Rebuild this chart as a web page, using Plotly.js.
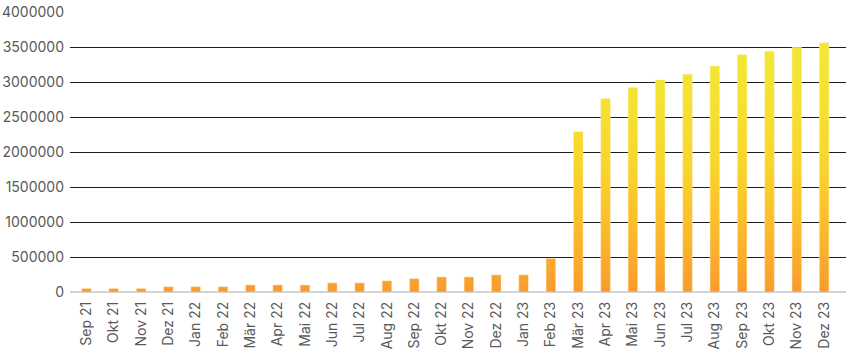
<!DOCTYPE html>
<html>
<head>
<meta charset="utf-8">
<script src="https://cdn.plot.ly/plotly-3.0.1.min.js"></script>
<style>
html,body{margin:0;padding:0;background:#fff;}
#chart{width:852px;height:352px;}
</style>
</head>
<body>
<div id="chart"></div>
<script>
const categories = ["Sep 21","Okt 21","Nov 21","Dez 21","Jan 22","Feb 22","Mär 22","Apr 22","Mai 22","Jun 22","Jul 22","Aug 22","Sep 22","Okt 22","Nov 22","Dez 22","Jan 23","Feb 23","Mär 23","Apr 23","Mai 23","Jun 23","Jul 23","Aug 23","Sep 23","Okt 23","Nov 23","Dez 23"];
const values = [50000,50000,50000,75000,75000,75000,100000,100000,100000,130000,130000,160000,190000,215000,215000,245000,245000,480000,2290000,2760000,2920000,3030000,3110000,3230000,3390000,3440000,3495000,3560000];
const yTickValues = [0,500000,1000000,1500000,2000000,2500000,3000000,3500000,4000000];
const yTickLabels = ["0","500000","1000000","1500000","2000000","2500000","3000000","3500000","4000000"];

const fontFamily = "Inter, 'Liberation Sans', sans-serif";

const trace = {
  type: 'bar',
  x: categories.map((c, i) => i),
  y: values,
  width: 0.35,
  marker: {color: '#F9A62E', line: {color: 'rgba(255,235,190,0.55)', width: 0.8}},
  hoverinfo: 'x+y'
};

const layout = {
  width: 852, height: 352,
  margin: {l: 70, r: 6, t: 12, b: 60},
  paper_bgcolor: '#ffffff', plot_bgcolor: '#ffffff',
  showlegend: false,
  bargap: 0,
  xaxis: {
    range: [-0.6, 27.8],
    tickmode: 'array',
    tickvals: categories.map((c, i) => i),
    ticktext: categories,
    tickangle: -90,
    ticks: '',
    ticklabelstandoff: 6,
    showgrid: false,
    zeroline: false,
    showline: false,
    tickfont: {family: fontFamily, size: 14, color: '#595959'}
  },
  yaxis: {
    range: [0, 4000000],
    tickmode: 'array',
    tickvals: yTickValues,
    ticktext: yTickLabels,
    showgrid: true,
    gridcolor: '#1e1e1e',
    gridwidth: 1,
    zeroline: true,
    zerolinecolor: '#d4d4d4',
    zerolinewidth: 2,
    showline: false,
    ticks: '',
    ticklabelstandoff: 5,
    tickfont: {family: fontFamily, size: 14, color: '#595959'}
  }
};

function applyGradient(gd) {
  const svg = gd.querySelector('svg.main-svg');
  if (!svg) return;
  const ns = 'http://www.w3.org/2000/svg';
  const plotH = gd._fullLayout._size.h;
  let defs = svg.querySelector('defs#custom-defs');
  if (!defs) {
    defs = document.createElementNS(ns, 'defs');
    defs.setAttribute('id', 'custom-defs');
    svg.insertBefore(defs, svg.firstChild);
  }
  defs.innerHTML = '';
  const grad = document.createElementNS(ns, 'linearGradient');
  grad.setAttribute('id', 'barGrad');
  grad.setAttribute('gradientUnits', 'userSpaceOnUse');
  grad.setAttribute('x1', '0'); grad.setAttribute('x2', '0');
  grad.setAttribute('y1', String(plotH)); grad.setAttribute('y2', '0');
  const stops = [[0, '#F89A2E'], [0.1, '#FAAA2D'], [0.25, '#FBBE2C'], [0.45, '#F9D52B'], [0.65, '#F5E030'], [0.88, '#F2E835'], [1, '#F2EB3A']];
  stops.forEach(([o, c]) => {
    const s = document.createElementNS(ns, 'stop');
    s.setAttribute('offset', String(o));
    s.setAttribute('stop-color', c);
    grad.appendChild(s);
  });
  defs.appendChild(grad);
  gd.querySelectorAll('.barlayer .point path').forEach(p => {
    p.style.fill = 'url(#barGrad)';
  });
}

const gd = document.getElementById('chart');
Plotly.newPlot(gd, [trace], layout, {displayModeBar: false, staticPlot: true}).then(() => {
  applyGradient(gd);
  gd.on('plotly_afterplot', () => applyGradient(gd));
});
</script>
</body>
</html>
